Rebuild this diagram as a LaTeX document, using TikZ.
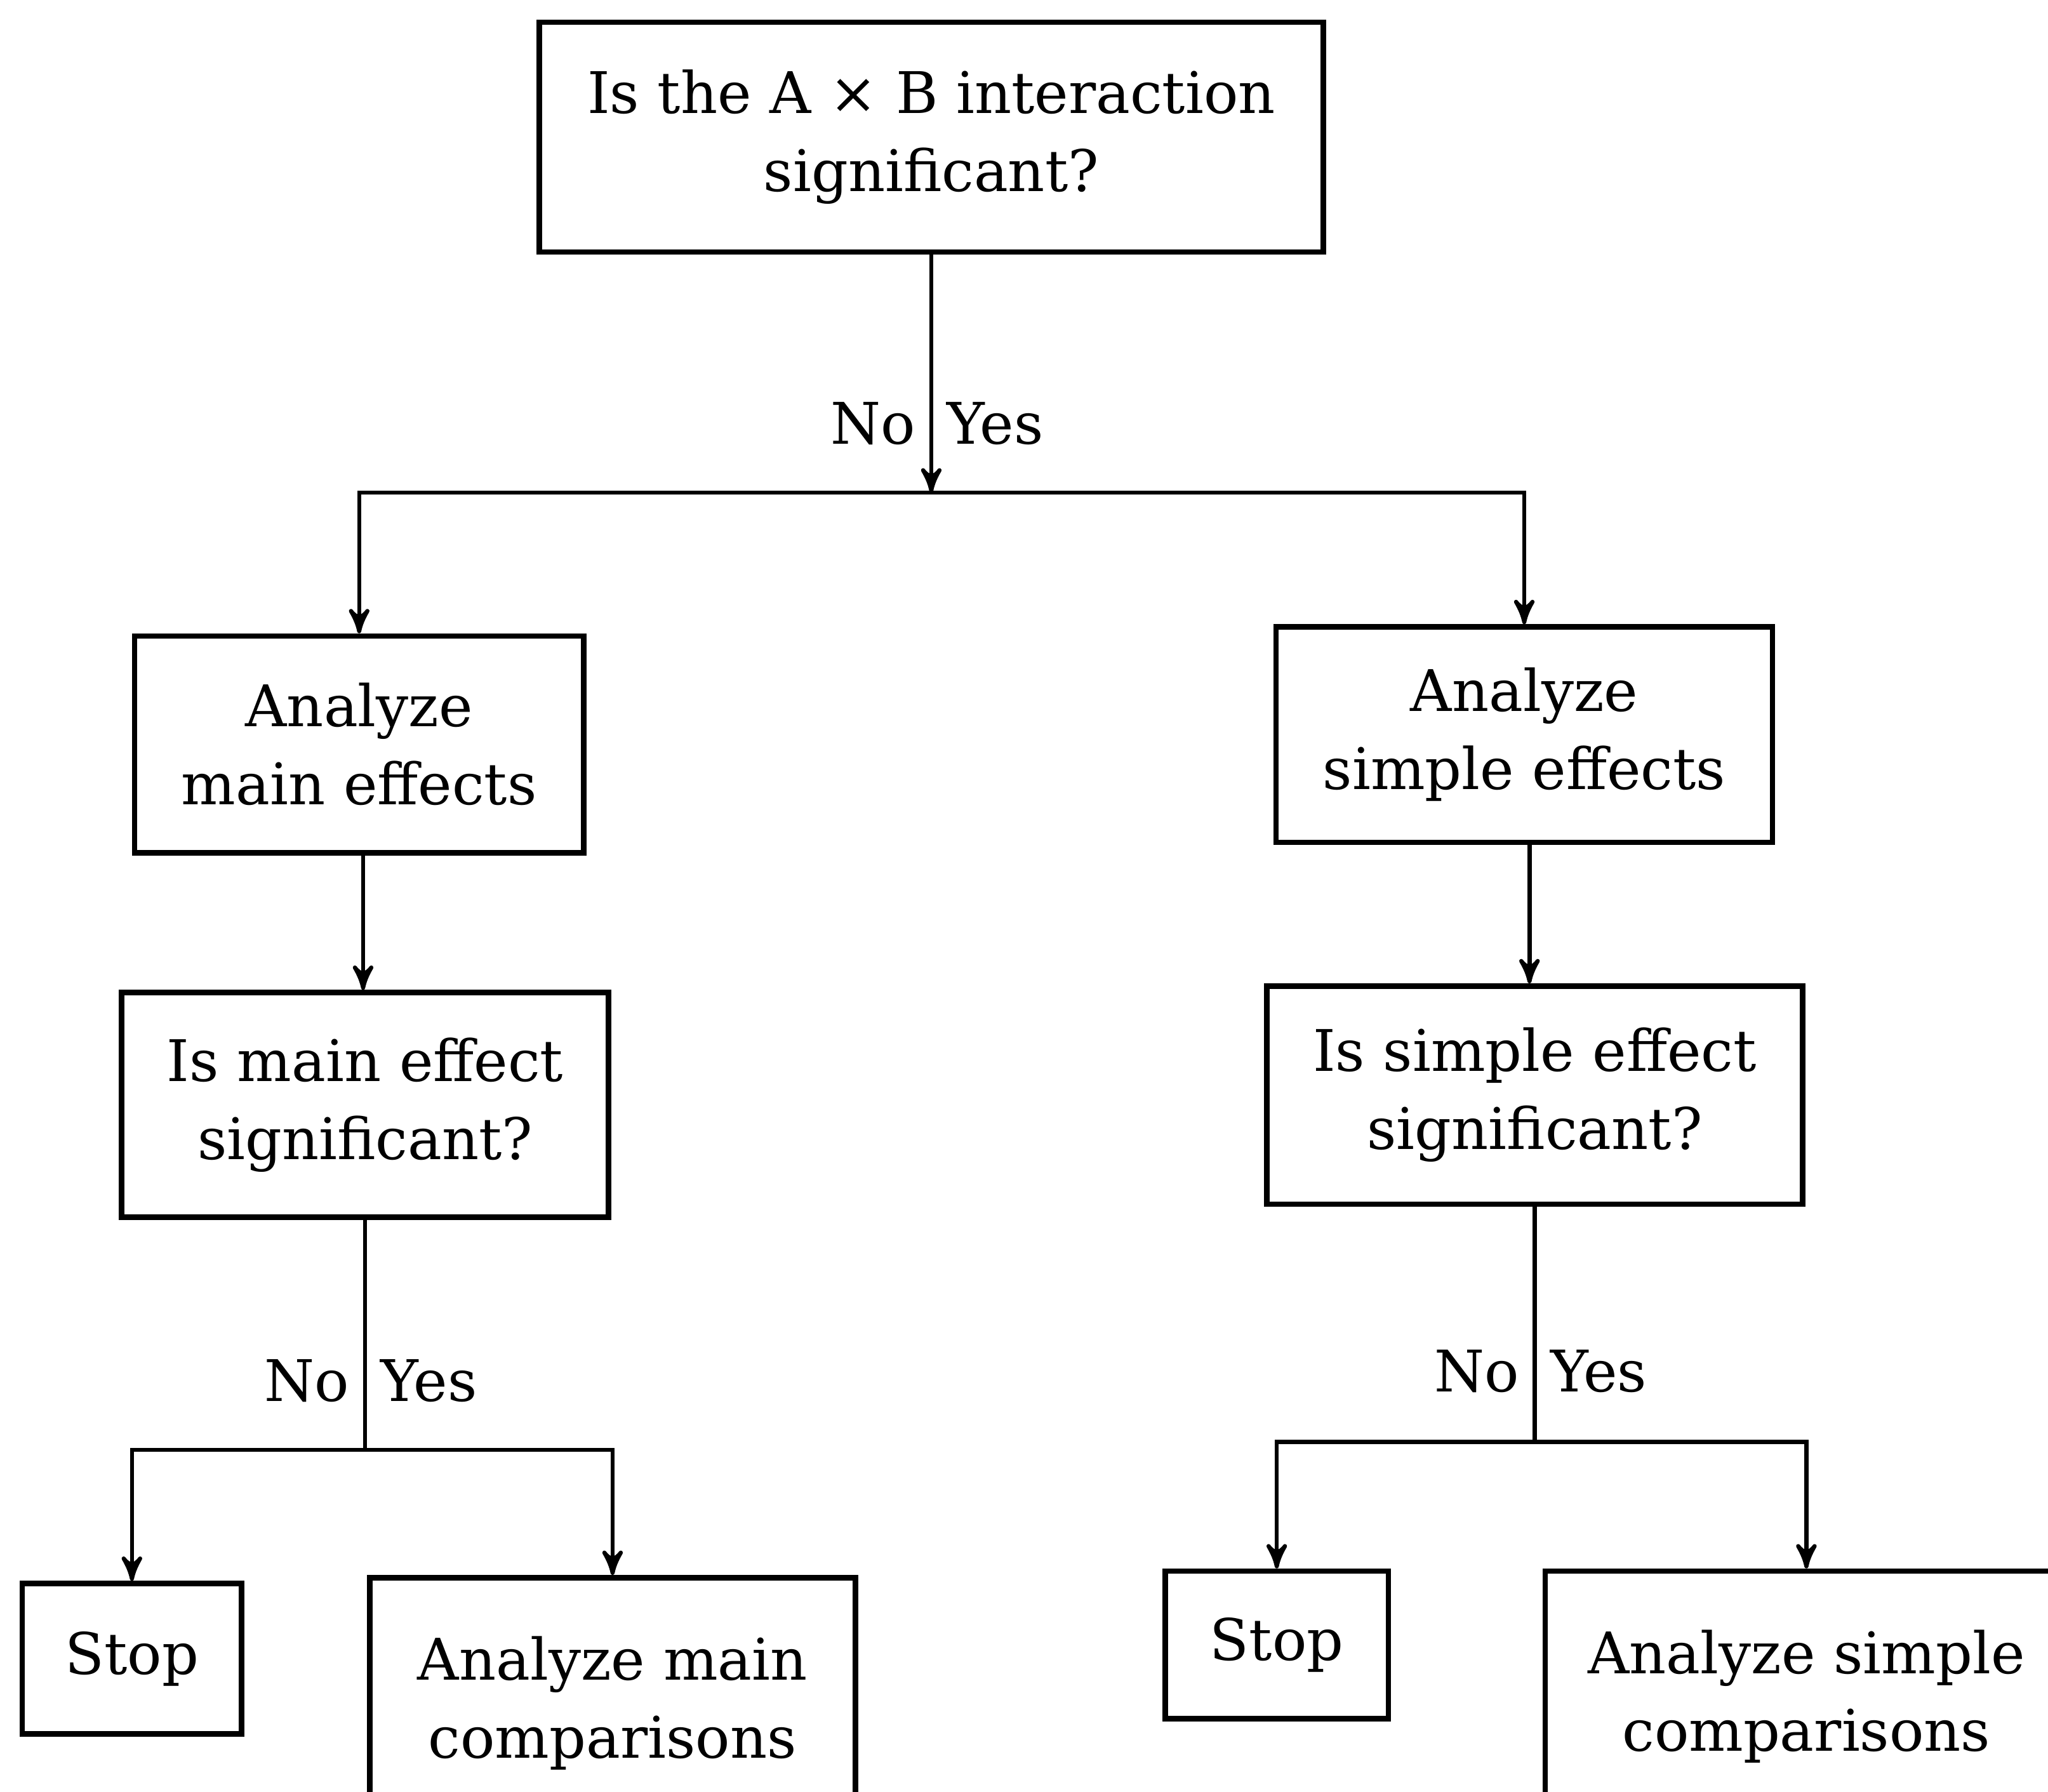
\documentclass[tikz,border=0pt]{standalone}
\usepackage{fontspec}
\setmainfont{DejaVu Serif}
\usepackage{tikz}
\usetikzlibrary{positioning,calc}
\usetikzlibrary{arrows}
\tikzset{post/.style={->,>=stealth', line width=0.9pt},
         link/.style={-, line width=0.9pt},
         box/.style={rectangle,draw,line width=1.2pt,align=center,inner sep=0pt,
                     font=\fontsize{12.5}{17}\selectfont},
         lbl/.style={font=\fontsize{12.5}{17}\selectfont, inner sep=3pt}
}

\begin{document}
\begin{tikzpicture}
    \useasboundingbox (0,0) rectangle (15.68,-13.72);
    \clip (0,0) rectangle (15.68,-13.72);
            %                top
            %     ame                 ase
            %     ism                 iss
            %  stopL  amc         stopR  asc
        \node[box, minimum width=6.0cm, minimum height=1.76cm] (top) at (7.13,-1.05)
            {Is the A × B interaction\\ significant?};
        \node[box, minimum width=3.44cm, minimum height=1.66cm] (ame) at (2.75,-5.70)
            {Analyze\\ main effects};
        \node[box, minimum width=3.80cm, minimum height=1.65cm] (ase) at (11.67,-5.625)
            {Analyze\\ simple effects};
        \node[box, minimum width=3.73cm, minimum height=1.72cm] (ism) at (2.795,-8.46)
            {Is main effect\\ significant?};
        \node[box, minimum width=4.10cm, minimum height=1.67cm] (iss) at (11.75,-8.385)
            {Is simple effect\\ significant?};
        \node[box, minimum width=1.68cm, minimum height=1.15cm] (stopL) at (1.01,-12.70) {Stop};
        \node[box, minimum width=3.72cm, minimum height=1.92cm] (amc) at (4.69,-13.04)
            {Analyze main\\ comparisons};
        \node[box, minimum width=1.71cm, minimum height=1.13cm] (stopR) at (9.775,-12.595) {Stop};
        \node[box, minimum width=4.00cm, minimum height=1.92cm] (asc) at (13.83,-12.99)
            {Analyze simple\\ comparisons};

        \coordinate (bar1) at ($(top.south)+(0,-1.82)$);
        \coordinate (bar2) at ($(ism.south)+(0,-1.76)$);
        \coordinate (bar3) at ($(iss.south)+(0,-1.80)$);
        \coordinate (down1) at ($(ame.south)+(0.03,0)$);
        \coordinate (down2) at ($(ase.south)+(0.04,0)$);

        \draw[post] (top.south) -- (bar1)
              node[lbl, pos=0.71, left] (no1) {No}
              node[lbl, pos=0.71, right] (yes1) {Yes};
        \draw[post] (bar1) -| (ame.north);
        \draw[post] (bar1) -| (ase.north);
        \draw[post] (down1) -- (down1 |- ism.north);
        \draw[post] (down2) -- (down2 |- iss.north);

        \draw[link] (ism.south) -- (bar2)
              node[lbl, pos=0.70, left] (no2) {No}
              node[lbl, pos=0.70, right] (yes2) {Yes};
        \draw[post] (bar2) -| (stopL.north);
        \draw[post] (bar2) -| (amc.north);

        \draw[link] (iss.south) -- (bar3)
              node[lbl, pos=0.70, left] (no3) {No}
              node[lbl, pos=0.70, right] (yes3) {Yes};
        \draw[post] (bar3) -| (stopR.north);
        \draw[post] (bar3) -| (asc.north);
\end{tikzpicture}
\end{document}
